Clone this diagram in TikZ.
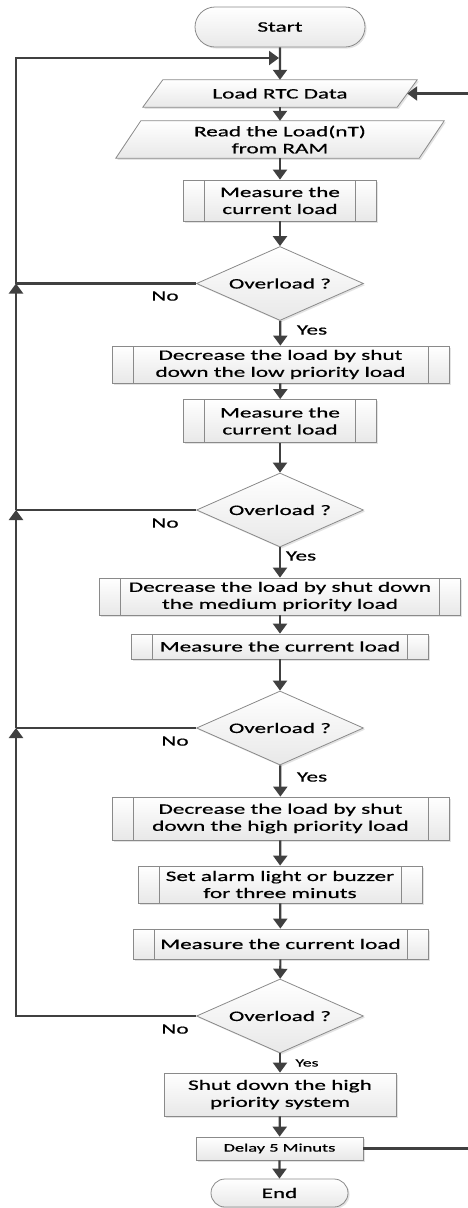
\documentclass[tikz,border=0pt]{standalone}
\usepackage{fontspec}
\setmainfont{Carlito}[FakeStretch=1.6,FakeBold=0.6]
\usetikzlibrary{arrows.meta,shapes.geometric,shapes.misc,shadows,backgrounds}
\definecolor{linec}{HTML}{404040}
\definecolor{boxc}{HTML}{8A8A8A}
\begin{document}
\begin{tikzpicture}[x=1pt,y=-1pt,
  every node/.style={font=\fontsize{14.5}{17}\selectfont, text=black, inner sep=0pt, align=center},
  boxbase/.style={draw=boxc, line width=0.8pt, top color=white, bottom color=black!9,
    drop shadow={shadow xshift=1.6pt, shadow yshift=-1.6pt, fill=black!22}},
  procbox/.style={boxbase, rectangle},
  predef/.style={boxbase, rectangle,
    path picture={\draw[boxc, line width=0.8pt]
      ([xshift=21pt]path picture bounding box.north west) -- ([xshift=21pt]path picture bounding box.south west)
      ([xshift=-21pt]path picture bounding box.north east) -- ([xshift=-21pt]path picture bounding box.south east);}},
  term/.style={boxbase, rounded rectangle},
  decision/.style={boxbase, diamond, aspect=2.3, minimum width=167pt, minimum height=74pt},
  paratext/.style={rectangle, draw=none},
  parashape/.style={draw=boxc, line width=0.8pt, top color=white, bottom color=black!9,
    drop shadow={shadow xshift=1.6pt, shadow yshift=-1.6pt, fill=black!22}},
  line/.style={draw=linec, line width=2.2pt},
  arr/.style={line, -{Triangle[width=14pt,length=10pt]}},
  lbl/.style={font=\fontsize{14.5}{17}\selectfont},
  smalllbl/.style={font=\fontsize{11}{13}\selectfont}
]
\useasboundingbox (0,0) rectangle (468,1208);

% nodes
\node[term, minimum width=170pt, minimum height=40pt] (start) at (280,27) {Start};
\node[paratext, minimum width=254pt, minimum height=27pt] (rtc) at (280,93.5) {Load RTC Data};
\node[paratext, minimum width=303pt, minimum height=37pt] (read) at (280,139.5) {Read the Load(nT)\\from RAM};
\node[predef, minimum width=193pt, minimum height=41pt] (m1) at (280,200.5) {Measure the\\current load};
\node[decision] (d1) at (280,283.5) {Overload ?};
\node[predef, minimum width=337pt, minimum height=37pt] (dec1) at (280.5,364.5) {Decrease the load by shut\\down the low priority load};
\node[predef, minimum width=193pt, minimum height=43pt] (m2) at (280,421) {Measure the\\current load};
\node[decision] (d2) at (280,510) {Overload ?};
\node[predef, minimum width=361pt, minimum height=37pt] (dec2) at (280,596.5) {Decrease the load by shut down\\the medium priority load};
\node[predef, minimum width=297pt, minimum height=25pt] (m3) at (280,646.5) {Measure the current load};
\node[decision] (d3) at (280,728) {Overload ?};
\node[predef, minimum width=337pt, minimum height=43pt] (dec3) at (280.5,818.5) {Decrease the load by shut\\down the high priority load};
\node[predef, minimum width=284pt, minimum height=37pt] (alarm) at (280,884.5) {Set alarm light or buzzer\\for three minuts};
\node[predef, minimum width=295pt, minimum height=30pt] (m4) at (280.5,944) {Measure the current load};
\node[decision] (d4) at (280,1016) {Overload ?};
\node[procbox, minimum width=232pt, minimum height=43pt] (shut) at (280,1094.5) {Shut down the high\\priority system};
\node[procbox, minimum width=167pt, minimum height=23pt, font=\fontsize{11.5}{13}\selectfont] (delay) at (279.5,1148.5) {Delay 5 Minuts};
\node[term, minimum width=137pt, minimum height=28pt] (end) at (279.5,1193) {End};

% parallelogram outlines
\begin{scope}[on background layer]
\draw[parashape] ([xshift=10pt]rtc.north west) -- ([xshift=10pt]rtc.north east)
  -- ([xshift=-10pt]rtc.south east) -- ([xshift=-10pt]rtc.south west) -- cycle;
\draw[parashape] ([xshift=12.5pt]read.north west) -- ([xshift=12.5pt]read.north east)
  -- ([xshift=-12.5pt]read.south east) -- ([xshift=-12.5pt]read.south west) -- cycle;
\end{scope}

% labels
\node[lbl] (no1) at (165,296) {No};
\node[lbl] (no2) at (165,523) {No};
\node[lbl] (no3) at (175,741) {No};
\node[lbl] (no4) at (175,1029) {No};
\node[lbl] (yes1) at (312,330) {Yes};
\node[lbl] (yes2) at (301,556) {Yes};
\node[lbl] (yes3) at (312,777) {Yes};
\node[smalllbl] (yes4) at (307,1063) {Yes};

% coordinates for loops
\coordinate (J0) at (279,58);
\coordinate (L0) at (16,58);
\coordinate (L1) at (16,283.5);
\coordinate (L2) at (16,510);
\coordinate (L3) at (16,728);
\coordinate (L4) at (16,1016);
\coordinate (R1) at (468,93.5);
\coordinate (R2) at (468,1148.5);

% main flow
\draw[arr] (start) -- (rtc);
\draw[arr] (rtc) -- (read);
\draw[arr] (read) -- (m1);
\draw[arr] (m1) -- (d1);
\draw[arr] (d1) -- (dec1);
\draw[arr] (dec1) -- (m2);
\draw[arr] (m2) -- (d2);
\draw[arr] (d2) -- (dec2);
\draw[arr] (dec2) -- (m3);
\draw[arr] (m3) -- (d3);
\draw[arr] (d3) -- (dec3);
\draw[arr] (dec3) -- (alarm);
\draw[arr] (alarm) -- (m4);
\draw[arr] (m4) -- (d4);
\draw[arr] (d4) -- (shut);
\draw[arr] (shut) -- (delay);
\draw[arr] (delay) -- (end);

% left feedback loop
\draw[line] (d1.west) -- (L1);
\draw[line] (d2.west) -- (L2);
\draw[line] (d3.west) -- (L3);
\draw[arr] (d4.west) -- (L4) -- (L3);
\draw[arr] (L3) -- (L2);
\draw[arr] (L2) -- (L1);
\draw[arr] (L1) -- (L0) -- (J0);

% right loop
\draw[arr] (R1) -- (rtc.east);
\draw[line] (delay.east) -- (R2);
\end{tikzpicture}
\end{document}
